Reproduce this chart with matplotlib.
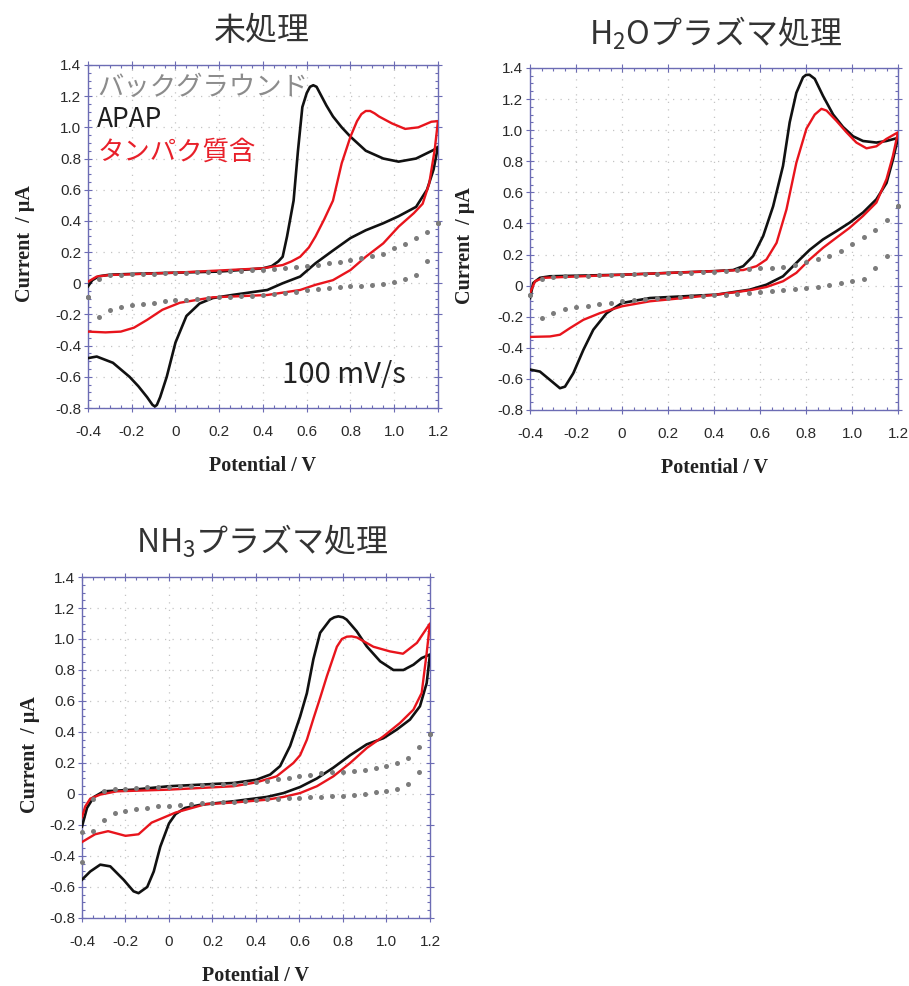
import numpy as np
import matplotlib
matplotlib.use("Agg")
import matplotlib.pyplot as plt
from matplotlib.ticker import MultipleLocator, FuncFormatter

CJK = ["Noto Sans CJK JP", "DejaVu Sans"]
plt.rcParams["mathtext.fontset"] = "custom"
plt.rcParams["mathtext.rm"] = "Noto Sans CJK JP"

# potentiel des points de la ligne de base (un point tous les 50 mV)
E_GRID = [-0.40, -0.35, -0.30, -0.25, -0.20, -0.15, -0.10, -0.05, 0.00, 0.05, 0.10,
          0.15, 0.20, 0.25, 0.30, 0.35, 0.40, 0.45, 0.50, 0.55, 0.60, 0.65, 0.70,
          0.75, 0.80, 0.85, 0.90, 0.95, 1.00, 1.05, 1.10, 1.15, 1.20]

TITLES = ["未処理", r"H$_\mathrm{2}$Oプラズマ処理", r"NH$_\mathrm{3}$プラズマ処理"]
LEGEND = ["バックグラウンド", "APAP", "タンパク質含"]

# --- panneau 1 : 未処理 (aller puis retour) ---
P1_APAP_E = [-0.40, -0.38, -0.35, -0.30, -0.20, 0.00, 0.20, 0.40, 0.44, 0.47, 0.49, 0.51, 0.54,
             0.56, 0.58, 0.60, 0.615, 0.63, 0.645, 0.66, 0.69, 0.72, 0.76, 0.80, 0.87, 0.95,
             1.02, 1.10, 1.18, 1.20,
             1.18, 1.15, 1.10, 1.02, 0.95, 0.87, 0.80, 0.72, 0.64, 0.57, 0.49, 0.42, 0.26,
             0.17, 0.11, 0.05, 0.00, -0.04, -0.07, -0.085, -0.094, -0.105, -0.13, -0.17, -0.21,
             -0.286, -0.36, -0.40]
P1_APAP_I = [-0.02, 0.02, 0.045, 0.055, 0.06, 0.068, 0.075, 0.096, 0.11, 0.14, 0.17, 0.30, 0.53,
             0.85, 1.13, 1.22, 1.26, 1.27, 1.26, 1.22, 1.14, 1.07, 1.0, 0.94, 0.85, 0.80,
             0.78, 0.80, 0.855, 0.875,
             0.73, 0.60, 0.49, 0.43, 0.385, 0.34, 0.29, 0.21, 0.128, 0.043, 0.0, -0.043, -0.075,
             -0.095, -0.13, -0.21, -0.38, -0.60, -0.73, -0.78, -0.79, -0.78, -0.73, -0.66, -0.60,
             -0.51, -0.47, -0.48]
P1_PROT_E = [-0.40, -0.36, -0.30, 0.00, 0.40, 0.49, 0.53, 0.57, 0.61, 0.64, 0.68, 0.72, 0.76,
             0.80, 0.83, 0.85, 0.87, 0.89, 0.91, 0.93, 0.99, 1.05, 1.11, 1.17, 1.20,
             1.185, 1.16, 1.13, 1.09, 1.02, 0.95, 0.87, 0.80, 0.72, 0.64, 0.57, 0.42, 0.26,
             0.17, 0.02, -0.06, -0.13, -0.19, -0.25, -0.32, -0.40]
P1_PROT_I = [0.01, 0.043, 0.053, 0.068, 0.096, 0.117, 0.14, 0.17, 0.23, 0.30, 0.41, 0.53, 0.77,
             0.94, 1.04, 1.085, 1.105, 1.105, 1.09, 1.07, 1.025, 0.99, 1.0, 1.036, 1.04,
             0.855, 0.64, 0.51, 0.45, 0.363, 0.256, 0.17, 0.085, 0.02, -0.01, -0.043, -0.075, -0.085,
             -0.09, -0.125, -0.17, -0.235, -0.285, -0.31, -0.315, -0.31]
P1_BG_FWD = [-0.09, 0.03, 0.05, 0.055, 0.058, 0.06, 0.062, 0.064, 0.066, 0.068, 0.07,
             0.072, 0.074, 0.077, 0.08, 0.083, 0.087, 0.092, 0.098, 0.105, 0.113, 0.12, 0.128,
             0.137, 0.148, 0.16, 0.175, 0.19, 0.225, 0.255, 0.29, 0.33, 0.385]
P1_BG_REV = [-0.09, -0.215, -0.17, -0.15, -0.14, -0.135, -0.125, -0.115, -0.11, -0.105, -0.10,
             -0.095, -0.09, -0.086, -0.083, -0.08, -0.075, -0.07, -0.06, -0.055, -0.045, -0.035, -0.03,
             -0.025, -0.02, -0.015, -0.01, -0.005, 0.005, 0.025, 0.055, 0.14, 0.385]

# --- panneau 2 : H2O ---
P2_APAP_E = [-0.40, -0.386, -0.357, -0.313, 0.00, 0.40, 0.483, 0.527, 0.57, 0.614, 0.657, 0.70,
             0.729, 0.758, 0.787, 0.80, 0.815, 0.838, 0.874, 0.918, 0.961, 1.005, 1.048, 1.106,
             1.149, 1.20,
             1.178, 1.15, 1.106, 1.048, 0.99, 0.932, 0.874, 0.816, 0.773, 0.70, 0.628, 0.556, 0.411,
             0.266, 0.121, 0.0, -0.067, -0.125, -0.168, -0.212, -0.248, -0.27, -0.313, -0.357, -0.40]
P2_APAP_I = [-0.08, 0.017, 0.05, 0.06, 0.07, 0.093, 0.10, 0.125, 0.19, 0.32, 0.51, 0.77,
             1.05, 1.24, 1.34, 1.355, 1.356, 1.33, 1.22, 1.10, 1.02, 0.96, 0.93, 0.92,
             0.93, 0.95,
             0.81, 0.66, 0.555, 0.47, 0.405, 0.35, 0.297, 0.23, 0.168, 0.06, 0.006, -0.026, -0.058,
             -0.069, -0.08, -0.112, -0.177, -0.284, -0.413, -0.564, -0.65, -0.66, -0.607, -0.553, -0.54]
P2_PROT_E = [-0.40, -0.378, -0.342, 0.0, 0.40, 0.527, 0.585, 0.628, 0.672, 0.715, 0.758, 0.802,
             0.838, 0.867, 0.889, 0.932, 0.976, 1.019, 1.063, 1.106, 1.149, 1.20,
             1.178, 1.15, 1.106, 1.048, 0.99, 0.932, 0.874, 0.816, 0.758, 0.70, 0.628, 0.556,
             0.411, 0.266, 0.121, 0.0, -0.096, -0.168, -0.226, -0.27, -0.313, -0.40]
P2_PROT_I = [-0.047, 0.028, 0.05, 0.07, 0.093, 0.10, 0.125, 0.168, 0.275, 0.49, 0.79, 1.01,
             1.10, 1.137, 1.126, 1.06, 0.986, 0.92, 0.883, 0.896, 0.943, 0.986,
             0.835, 0.685, 0.534, 0.448, 0.372, 0.308, 0.243, 0.168, 0.082, 0.028, -0.009, -0.03,
             -0.058, -0.08, -0.101, -0.133, -0.177, -0.22, -0.273, -0.316, -0.327, -0.33]
P2_BG_FWD = [-0.06, 0.04, 0.055, 0.06, 0.062, 0.064, 0.066, 0.068, 0.07, 0.072, 0.074,
             0.076, 0.078, 0.08, 0.083, 0.086, 0.09, 0.095, 0.10, 0.105, 0.11, 0.115, 0.122,
             0.135, 0.15, 0.17, 0.19, 0.22, 0.265, 0.31, 0.355, 0.42, 0.51]
P2_BG_REV = [-0.06, -0.21, -0.175, -0.15, -0.14, -0.13, -0.12, -0.11, -0.10, -0.09, -0.085,
             -0.08, -0.077, -0.074, -0.07, -0.066, -0.063, -0.06, -0.055, -0.05, -0.042, -0.037, -0.03,
             -0.022, -0.015, -0.008, 0.005, 0.015, 0.03, 0.045, 0.115, 0.19, 0.51]

# --- panneau 3 : NH3 ---
P3_APAP_E = [-0.40, -0.377, -0.346, -0.30, -0.163, 0.0, 0.297, 0.402, 0.465, 0.511, 0.557, 0.603,
             0.634, 0.664, 0.695, 0.741, 0.76, 0.779, 0.80, 0.817, 0.863, 0.909, 0.971, 1.032,
             1.078, 1.124, 1.162, 1.20,
             1.185, 1.154, 1.108, 1.047, 0.986, 0.909, 0.833, 0.756, 0.68, 0.603, 0.527, 0.45,
             0.297, 0.144, 0.074, 0.03, 0.0, -0.04, -0.07, -0.10, -0.14, -0.163, -0.209, -0.27,
             -0.316, -0.362, -0.40]
P3_APAP_I = [-0.21, -0.09, -0.02, 0.017, 0.028, 0.05, 0.071, 0.092, 0.125, 0.18, 0.31, 0.50,
             0.65, 0.87, 1.04, 1.125, 1.14, 1.146, 1.14, 1.125, 1.05, 0.953, 0.856, 0.80,
             0.80, 0.834, 0.877, 0.90,
             0.716, 0.566, 0.48, 0.415, 0.36, 0.32, 0.25, 0.17, 0.10, 0.045, 0.006, -0.019,
             -0.047, -0.07, -0.09, -0.13, -0.19, -0.34, -0.50, -0.60, -0.64, -0.628, -0.553, -0.467,
             -0.456, -0.50, -0.553]
P3_PROT_E = [-0.40, -0.385, -0.362, -0.316, -0.24, 0.0, 0.297, 0.402, 0.495, 0.572, 0.603, 0.634,
             0.665, 0.695, 0.726, 0.772, 0.795, 0.818, 0.84, 0.864, 0.94, 1.016, 1.076, 1.14, 1.20,
             1.185, 1.162, 1.124, 1.062, 0.986, 0.91, 0.833, 0.756, 0.68, 0.603, 0.527, 0.45,
             0.30, 0.17, 0.03, -0.08, -0.14, -0.20, -0.28, -0.34, -0.40]
P3_PROT_I = [-0.15, -0.08, -0.03, -0.004, 0.017, 0.028, 0.05, 0.075, 0.114, 0.20, 0.25, 0.35,
             0.49, 0.62, 0.76, 0.95, 1.0, 1.015, 1.017, 1.01, 0.95, 0.92, 0.905, 0.975, 1.10,
             0.91, 0.652, 0.544, 0.458, 0.372, 0.297, 0.20, 0.114, 0.05, 0.006, -0.019, -0.037,
             -0.055, -0.065, -0.12, -0.185, -0.26, -0.27, -0.24, -0.26, -0.31]
P3_BG_FWD = [-0.44, -0.03, 0.02, 0.03, 0.035, 0.04, 0.042, 0.045, 0.048, 0.05, 0.053,
             0.056, 0.06, 0.063, 0.066, 0.07, 0.075, 0.085, 0.095, 0.105, 0.115, 0.125, 0.135,
             0.14, 0.145, 0.15, 0.155, 0.165, 0.18, 0.20, 0.235, 0.30, 0.39]
P3_BG_REV = [-0.245, -0.24, -0.165, -0.12, -0.11, -0.10, -0.09, -0.08, -0.075, -0.07, -0.065,
             -0.06, -0.056, -0.053, -0.05, -0.045, -0.04, -0.035, -0.03, -0.026, -0.023, -0.02, -0.018,
             -0.015, -0.01, -0.004, 0.003, 0.01, 0.02, 0.035, 0.065, 0.14, 0.39]

FRAME = "#6c6cb4"
BLACK = "#111111"
RED = "#e8141c"
GREY = "#7c7c7c"


def tick_text(value, _pos):
    return "0" if abs(value) < 1e-9 else f"{value:.1f}"


def draw_panel(ax, apap, prot, bg_fwd, bg_rev, label_x):
    ax.plot(*apap, color=BLACK, lw=1.9, zorder=3, solid_joinstyle="round")
    ax.plot(*prot, color=RED, lw=1.7, zorder=3, solid_joinstyle="round")
    for bg in (bg_fwd, bg_rev):
        ax.plot(E_GRID, bg, ls="none", marker="o", ms=3.6, mew=0, color=GREY,
                zorder=4, clip_on=False)
    ax.set_xlim(-0.4, 1.2); ax.set_ylim(-0.8, 1.4)
    for axis in (ax.xaxis, ax.yaxis):
        axis.set_major_locator(MultipleLocator(0.2))
        axis.set_minor_locator(MultipleLocator(0.05))
        axis.set_major_formatter(FuncFormatter(tick_text))
    ax.tick_params(which="major", direction="inout", length=6, width=0.8, color=FRAME,
                   top=True, right=True, labelsize=11, labelcolor="#2a2a2a")
    ax.tick_params(which="minor", direction="in", length=2.5, width=0.8, color=FRAME,
                   top=True, right=True)
    ax.tick_params(axis="x", pad=9); ax.tick_params(axis="y", pad=2)
    for label in ax.get_xticklabels() + ax.get_yticklabels():
        label.set_fontfamily("Liberation Sans")
    for spine in ax.spines.values():
        spine.set_color(FRAME); spine.set_linewidth(1.0)
    ax.grid(True, which="major", color="#c4c4c4", ls=(0, (1, 5)), lw=0.9)
    ax.set_axisbelow(True)
    axis_font = dict(fontfamily="Liberation Serif", fontweight="bold", fontsize=14.5, color="#222222")
    ax.set_xlabel("Potential / V", **axis_font)
    ax.set_ylabel("Current  / \u03bcA", **axis_font)
    ax.xaxis.set_label_coords(0.5, -0.14)
    ax.yaxis.set_label_coords(label_x, 0.48)


fig = plt.figure(figsize=(9.09, 9.86), dpi=100)
ax1 = fig.add_axes([0.0968, 0.5862, 0.385, 0.3479])
ax2 = fig.add_axes([0.5831, 0.5842, 0.4048, 0.3469])
ax3 = fig.add_axes([0.0902, 0.0690, 0.3828, 0.3458])

draw_panel(ax1, (P1_APAP_E, P1_APAP_I), (P1_PROT_E, P1_PROT_I), P1_BG_FWD, P1_BG_REV, -0.15)
draw_panel(ax2, (P2_APAP_E, P2_APAP_I), (P2_PROT_E, P2_PROT_I), P2_BG_FWD, P2_BG_REV, -0.149)
draw_panel(ax3, (P3_APAP_E, P3_APAP_I), (P3_PROT_E, P3_PROT_I), P3_BG_FWD, P3_BG_REV, -0.12)

title_font = dict(fontsize=23, family=CJK, color="#333333", ha="center", va="center")
fig.text(262 / 909, 1 - 31 / 986, TITLES[0], **title_font)
fig.text(716 / 909, 1 - 33 / 986, TITLES[1], **title_font)
fig.text(262 / 909, 1 - 541 / 986, TITLES[2], **title_font)

for text, color, y in zip(LEGEND, ["#8c8c8c", "#1e1e1e", "#e8202a"], [0.933, 0.84, 0.746]):
    ax1.text(0.026, y, text, transform=ax1.transAxes, fontsize=19, family=CJK,
             color=color, ha="left", va="center", zorder=5)
ax1.text(0.554, 0.096, "100 mV/s", transform=ax1.transAxes, fontsize=21, family=CJK,
         color="#222222", ha="left", va="center", zorder=5)

fig.savefig("out.png", dpi=100, facecolor="white")
